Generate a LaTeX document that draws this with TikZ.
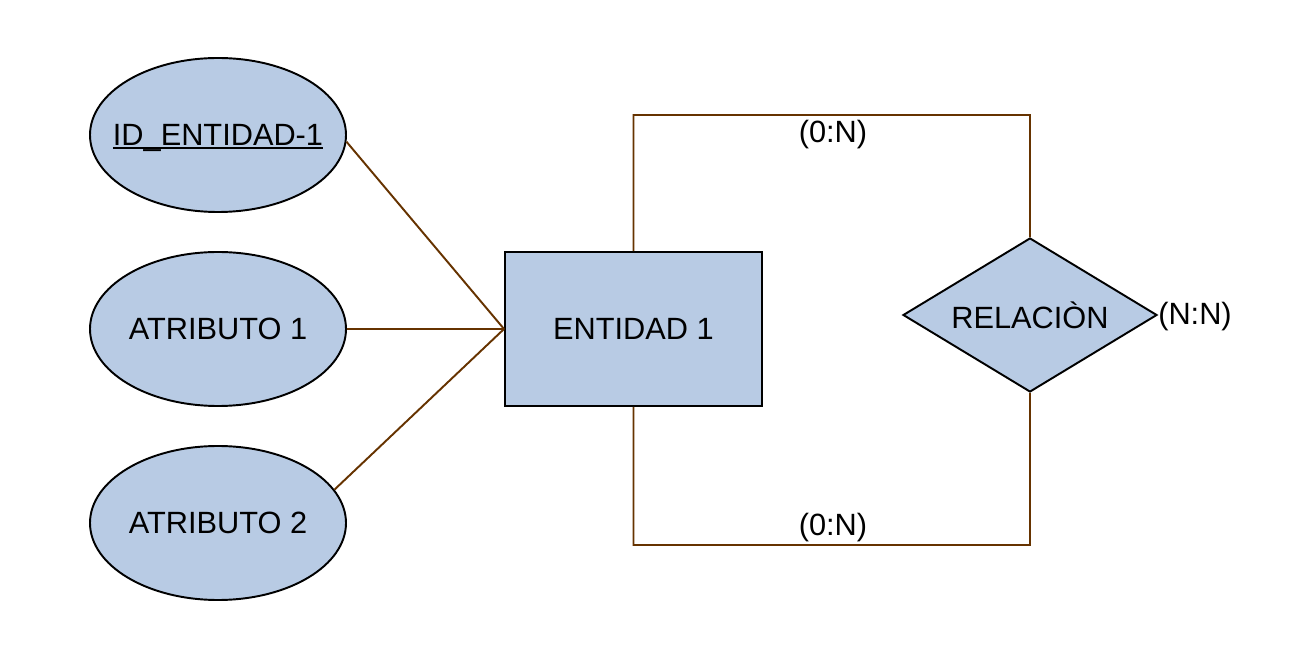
\documentclass[tikz,border=0pt]{standalone}
\usepackage{fontspec}
\setmainfont{Liberation Sans}
\usetikzlibrary{shapes,shapes.geometric,positioning,calc}
\definecolor{erfill}{HTML}{B8CBE4}
\definecolor{erline}{HTML}{663300}
\newcommand\idline[1]{\setbox0\hbox{#1}\rlap{\rule[-1.9pt]{\wd0}{1.3pt}}\box0}
\tikzset{
	attr/.style = {draw, fill=erfill, ellipse, line width=1.1pt, minimum width=5.12cm, minimum height=3.08cm, inner sep=0pt},
	entity/.style = {draw, fill=erfill, rectangle, line width=1.1pt, minimum width=5.14cm, minimum height=3.08cm},
	rel/.style = {draw, fill=erfill, diamond, aspect=1.65, line width=1.1pt, minimum width=5.08cm, minimum height=3.08cm, inner sep=0pt},
	tmp/.style = {coordinate},
	link/.style = {draw=erline, line width=1.1pt},
	card/.style = {inner sep=0pt}
}

\begin{document}
\begin{tikzpicture}[node distance=2.5cm, font=\fontsize{17.5}{20}\selectfont]
	\useasboundingbox (0,0) rectangle (25.86,13.42);
	% ========================== Nodes ============================
	% Attributes on the left
	\node [attr] (idattr) at (4.36,10.72) {\makebox[0pt]{\raisebox{0pt}[\height][0pt]{\idline{ID\_ENTIDAD-1}}}};
	\node [attr, below of=idattr, node distance=3.88cm] (attr1) {ATRIBUTO 1};
	\node [attr, below of=attr1, node distance=3.88cm] (attr2) {ATRIBUTO 2};
	% Entity and relationship
	\node [entity, right of=attr1, node distance=8.31cm] (ent) {ENTIDAD 1};
	\node [rel] (rel) at ($(ent)+(7.93,0.28)$) {RELACIÒN};
	% Corners of the loop
	\node [tmp, above of=ent, node distance=4.28cm] (tmptop1) {};
	\node [tmp, above of=rel, node distance=4.0cm] (tmptop2) {};
	\node [tmp, below of=ent, node distance=4.32cm] (tmpbot1) {};
	\node [tmp, below of=rel, node distance=4.6cm] (tmpbot2) {};
	% Cardinalities
	\node [card] (cardtop) at (16.66,10.72) {(0:N)};
	\node [card] (cardbot) at (16.66,2.86) {(0:N)};
	\node [card, right of=rel, node distance=3.3cm, yshift=-0.04cm] (cardrel) {(N:N)};

	% ========================== Lines ============================
	\draw [link] (idattr.-3) -- (ent.west);
	\draw [link] (attr1) -- (ent.west);
	\draw [link] (attr2.16) -- (ent.west);

	% Loop between entity and relationship
	\draw [link] (ent.north) -- (tmptop1) -- (tmptop2) -- (rel.north);
	\draw [link] (ent.south) -- (tmpbot1) -- (tmpbot2) -- (rel.south);
\end{tikzpicture}
\end{document}
